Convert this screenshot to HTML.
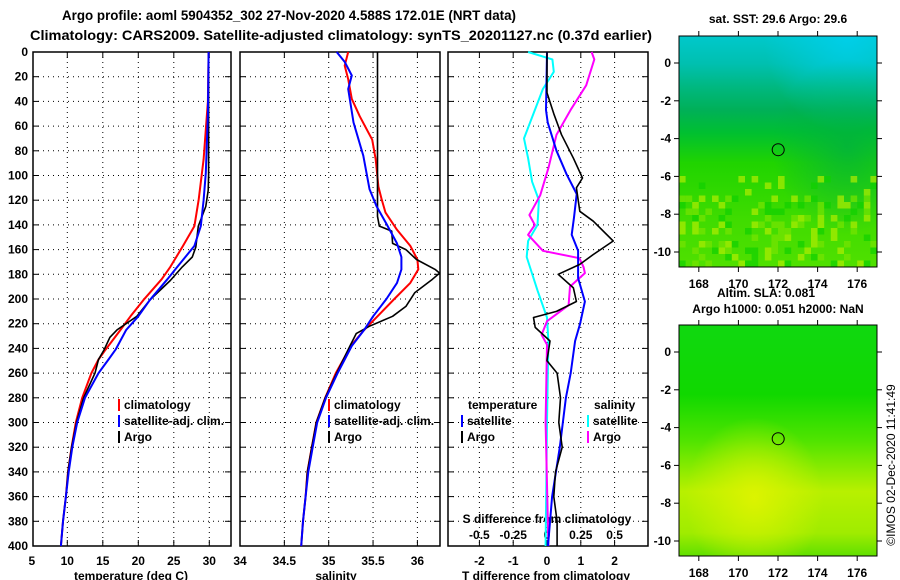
<!DOCTYPE html>
<html><head><meta charset="utf-8"><style>
body{margin:0;background:#fff;}
svg{display:block;font-family:"Liberation Sans",Arial,sans-serif;font-weight:bold;}
</style></head><body>
<svg id="c" width="900" height="580" viewBox="0 0 900 580">
<defs>
<linearGradient id="m1v" x1="0" y1="0" x2="0" y2="1">
<stop offset="0" stop-color="#00c8cc"/><stop offset="0.12" stop-color="#00c0b0"/><stop offset="0.22" stop-color="#00b880"/>
<stop offset="0.32" stop-color="#00b058"/><stop offset="0.42" stop-color="#00c030"/><stop offset="0.55" stop-color="#20d400"/><stop offset="0.8" stop-color="#40dc00"/><stop offset="1" stop-color="#50e000"/></linearGradient>
<radialGradient id="m1h" cx="0.85" cy="0.48" r="0.38"><stop offset="0" stop-color="#00b040" stop-opacity="0.75"/><stop offset="1" stop-color="#00b040" stop-opacity="0"/></radialGradient>
<radialGradient id="m1c" cx="0.85" cy="0" r="0.42"><stop offset="0" stop-color="#00d0f0" stop-opacity="0.8"/><stop offset="1" stop-color="#00d0f0" stop-opacity="0"/></radialGradient>
<linearGradient id="m2v" x1="0" y1="0" x2="0" y2="1">
<stop offset="0" stop-color="#10d810"/><stop offset="0.3" stop-color="#10d800"/><stop offset="0.5" stop-color="#50e400"/>
<stop offset="0.72" stop-color="#b8f000"/><stop offset="0.9" stop-color="#a0ec00"/><stop offset="1" stop-color="#60e000"/></linearGradient>
<radialGradient id="m2r" cx="0.38" cy="0.75" r="0.35"><stop offset="0" stop-color="#e0f400" stop-opacity="0.9"/><stop offset="1" stop-color="#e0f400" stop-opacity="0"/></radialGradient>
</defs>
<g id="g"></g>
</svg>
<script>
// ---- data ----
const depthTicks=[0,20,40,60,80,100,120,140,160,180,200,220,240,260,280,300,320,340,360,380,400];
const tTicks=[5,10,15,20,25,30];
const sTicks=[34,34.5,35,35.5,36];
const dTTicks=[-2,-1,0,1,2];
const dSTicks=[-0.5,-0.25,0,0.25,0.5];
const dSTickLabels=["-0.5","-0.25","0","0.25","0.5"];
const argoTDepth=[0,20,60,100,112,125,141,158,166,174,185,201,214,225,231,241,249,260,280,300,320,340,360,380,400];
const argoT=[29.9,29.9,29.9,29.9,29.85,29.5,28.45,28.1,27.6,26.2,24.5,21.6,19.8,17.0,16.0,15.2,14.4,13.9,12.3,11.3,10.6,10.1,9.8,9.4,9.1];
const climTDepth=[0,40,87,120,141,157,174,184,201,214,225,241,249,260,280,300,320,340,360,380,400];
const climT=[29.9,29.8,29.2,28.5,27.9,26.3,24.5,23.3,20.7,18.9,17.5,15.4,14.4,13.4,12.1,11.2,10.6,10.1,9.8,9.4,9.1];
const satTDepth=[0,50,98,120,141,157,174,184,201,214,225,241,249,260,280,300,320,340,360,380,400];
const satT=[29.9,29.8,29.5,29.2,28.8,27.9,25.5,24.1,21.6,20.0,18.3,16.8,15.8,14.4,12.5,11.4,10.7,10.2,9.8,9.4,9.1];
const argoSDepth=[0,133,141,145,155,160,168,176,179,184,195,206,214,222,228,238,260,280,300,320,340,360,380,400];
const argoS=[35.55,35.55,35.57,35.71,35.72,35.87,35.99,36.2,36.25,36.17,35.97,35.87,35.72,35.46,35.31,35.24,35.09,34.96,34.86,34.81,34.76,34.74,34.71,34.69];
const climSDepth=[0,11,22,38,52,71,87,109,120,130,144,157,168,176,187,200,214,225,238,260,280,300,320,340,360,380,400];
const climS=[35.22,35.18,35.22,35.26,35.35,35.49,35.53,35.56,35.6,35.64,35.77,35.92,36.0,36.01,35.92,35.74,35.55,35.4,35.25,35.08,34.96,34.86,34.81,34.76,34.74,34.71,34.69];
const satSDepth=[0,8,19,30,57,84,111,125,139,155,166,176,187,200,214,225,238,260,280,300,320,340,360,380,400];
const satS=[35.09,35.18,35.26,35.22,35.28,35.39,35.46,35.54,35.65,35.77,35.82,35.82,35.77,35.65,35.5,35.4,35.26,35.1,34.97,34.87,34.82,34.77,34.74,34.71,34.69];
const dTSatDepth=[0,47,57,80,99,115,134,148,161,183,202,220,234,260,280,320,360,400];
const dTSat=[0,-0.03,0.02,0.28,0.58,0.88,0.8,0.73,0.92,0.92,1.12,0.98,0.83,0.7,0.56,0.38,0.15,0.03];
const dTArgoDepth=[0,33,50,67,86,102,110,129,137,153,164,172,180,191,202,210,215,223,234,250,260,280,300,320,340,360,380,400];
const dTArgo=[0,0,0.2,0.43,0.78,1.05,0.87,0.97,1.37,1.96,1.37,0.97,0.33,0.78,0.87,0.28,-0.4,-0.35,0.09,0.0,0.3,0.4,0.35,0.45,0.25,0.2,0.3,0.3];
const dSSatDepth=[0,6,16,30,70,86,105,120,140,153,166,193,215,234,300,400];
const dSSat=[-0.14,0.04,0.05,-0.03,-0.17,-0.14,-0.11,-0.06,-0.07,-0.14,-0.15,-0.07,0,0.01,0,-0.01];
const dSArgoDepth=[0,6,27,46,67,94,116,132,140,148,161,167,174,179,190,205,218,229,237,300,400];
const dSArgo=[0.33,0.35,0.29,0.18,0.07,0.01,-0.05,-0.13,-0.09,-0.14,-0.03,0.24,0.27,0.28,0.17,0.16,0.0,-0.04,0,-0.01,0.01];
const lonTicks=[168,170,172,174,176];
const latTicks=[0,-2,-4,-6,-8,-10];
const floatLon=172.01, floatLat=-4.588;

// ---- axes ----
const TOP=52,BOT=546;
const yD=d=>TOP+d*(BOT-TOP)/400;
const xT=t=>67.3+(t-10)*7.1;
const xS=s=>328.7+(s-35)*88.7;
const xdT=v=>547+v*33.8;
const xdS=v=>547+v*135.2;
const M1={x0:679,x1:877,y0:36,y1:267,lat0:63};
const M2={x0:679,x1:877,y0:325,y1:556,lat0:352};
const mx=lon=>778+(lon-172)*19.8;
const my=(m,lat)=>m.lat0-lat*18.9;

const NS='http://www.w3.org/2000/svg';
const G=document.getElementById('g');
function el(tag,attrs,parent){const e=document.createElementNS(NS,tag);for(const k in attrs)e.setAttribute(k,attrs[k]);(parent||G).appendChild(e);return e;}
function txt(x,y,s,anchor,size,parent){const t=el('text',{x:x,y:y,'text-anchor':anchor||'middle','font-size':size||12},parent);t.textContent=s;return t;}

// titles
let t1=txt(289,20,'Argo profile: aoml 5904352_302 27-Nov-2020 4.588S 172.01E (NRT data)','middle',14);
t1.setAttribute('textLength','454');
t1.setAttribute('lengthAdjust','spacingAndGlyphs');


let t2=txt(341,40,'Climatology: CARS2009. Satellite-adjusted climatology: synTS_20201127.nc (0.37d earlier)','middle',14);
t2.setAttribute('textLength','622');
t2.setAttribute('lengthAdjust','spacingAndGlyphs');



const panels=[{x0:33,x1:231,name:'temperature-panel'},{x0:240,x1:440,name:'salinity-panel'},{x0:448,x1:648,name:'difference-panel'}];
const gridX=[tTicks.slice(1).map(xT),sTicks.slice(1).map(xS),dTTicks.map(xdT)];
panels.forEach((p,i)=>{
  const pg=el('g',{});
  
  
  depthTicks.slice(1,-1).forEach(d=>{
    el('line',{x1:p.x0,x2:p.x1,y1:yD(d),y2:yD(d),stroke:'#000','stroke-width':1,'stroke-dasharray':'1,4'},pg);
    el('line',{x1:p.x0,x2:p.x0+6,y1:yD(d),y2:yD(d),stroke:'#000'},pg);
    el('line',{x1:p.x1-6,x2:p.x1,y1:yD(d),y2:yD(d),stroke:'#000'},pg);
  });
  gridX[i].forEach(x=>{
    el('line',{x1:x,x2:x,y1:TOP,y2:BOT,stroke:'#000','stroke-width':1,'stroke-dasharray':'1,4'},pg);
    el('line',{x1:x,x2:x,y1:BOT-6,y2:BOT,stroke:'#000'},pg);
    el('line',{x1:x,x2:x,y1:TOP,y2:TOP+6,stroke:'#000'},pg);
  });
  el('rect',{x:p.x0,y:TOP,width:p.x1-p.x0,height:BOT-TOP,fill:'none',stroke:'#000','stroke-width':1.5},pg);
});
// y tick labels
const yl=el('g',{});


depthTicks.forEach(d=>txt(28,yD(d)+4,String(d),'end',12,yl));
// x labels
const xl1=el('g',{});


tTicks.forEach(t=>txt(xT(t),565,String(t),'middle',12,xl1));
const xl2=el('g',{});


sTicks.forEach(s=>txt(s===34?240:xS(s),565,String(s),'middle',12,xl2));
const xl3=el('g',{});


dTTicks.forEach(v=>txt(xdT(v),565,String(v),'middle',12,xl3));
let a1=txt(131,580,'temperature (deg C)','middle',12);


let a2=txt(336,580,'salinity','middle',12);


let a3=txt(546,580,'T difference from climatology','middle',12);


let a4=txt(547,523,'S difference from climatology','middle',12);


const sl=el('g',{});


dSTicks.forEach((v,i)=>txt(xdS(v),539,dSTickLabels[i],'middle',12,sl));

// series
function line(depths,vals,fx,color,w,name){
  const pts=depths.map((d,i)=>fx(vals[i]).toFixed(1)+','+yD(d).toFixed(1)).join(' ');
  const pl=el('polyline',{points:pts,fill:'none',stroke:color,'stroke-width':w,'stroke-linejoin':'round'});
  
  
}
line(climTDepth,climT,xT,'#ff0000',2,'temperature-climatology-line');
line(argoTDepth,argoT,xT,'#000000',1.6,'temperature-argo-line');
line(satTDepth,satT,xT,'#0000ff',2,'temperature-satellite-line');
line(climSDepth,climS,xS,'#ff0000',2,'salinity-climatology-line');
line(argoSDepth,argoS,xS,'#000000',1.6,'salinity-argo-line');
line(satSDepth,satS,xS,'#0000ff',2,'salinity-satellite-line');
line(dSSatDepth,dSSat,xdS,'#00ffff',2,'s-diff-satellite-line');
line(dSArgoDepth,dSArgo,xdS,'#ff00ff',2,'s-diff-argo-line');
line(dTSatDepth,dTSat,xdT,'#0000ff',2,'t-diff-satellite-line');
line(dTArgoDepth,dTArgo,xdT,'#000000',1.6,'t-diff-argo-line');

// legends
function legend(x,y,color,label,name){
  const lg=el('g',{});
  
  
  el('rect',{x:x,y:y-10,width:2,height:12,fill:color},lg);
  txt(x+6,y,label,'start',12,lg);
}
legend(118,409,'#ff0000','climatology','legend-entry-climatology');
legend(118,425,'#0000ff','satellite-adj. clim.','legend-entry-satellite-adj');
legend(118,441,'#000000','Argo','legend-entry-argo');
legend(328,409,'#ff0000','climatology','legend-entry-climatology-salinity');
legend(328,425,'#0000ff','satellite-adj. clim.','legend-entry-satellite-adj-salinity');
legend(328,441,'#000000','Argo','legend-entry-argo-salinity');
let lt=txt(468,409,'temperature','start',12);


let ls=txt(594,409,'salinity','start',12);


legend(461,425,'#0000ff','satellite','legend-entry-t-satellite');
legend(461,441,'#000000','Argo','legend-entry-t-argo');
legend(587,425,'#00ffff','satellite','legend-entry-s-satellite');
legend(587,441,'#ff00ff','Argo','legend-entry-s-argo');

// maps
function map(m,fillId,name){
  const g=el('g',{});
  
  
  el('rect',{x:m.x0,y:m.y0,width:m.x1-m.x0,height:m.y1-m.y0,fill:'url(#'+fillId+')'},g);
  return g;
}
const g1=map(M1,'m1v','sst-map');
el('rect',{x:M1.x0,y:M1.y0,width:M1.x1-M1.x0,height:M1.y1-M1.y0,fill:'url(#m1c)'},g1);
el('rect',{x:M1.x0,y:M1.y0,width:M1.x1-M1.x0,height:M1.y1-M1.y0,fill:'url(#m1h)'},g1);
// pixel speckle texture for sst map (lower part)
for(let r=0;r<14;r++){for(let c=0;c<30;c++){
  const h=Math.floor(Math.abs(Math.sin(r*12.9898+c*78.233)*43758.5453))%23;
  if(h<(r<3?4:8)){const y=176+r*6.5;const x=M1.x0+c*6.6;
    el('rect',{x:x,y:y,width:6.6,height:6.5,fill:h<3?'#b0ec00':(h<5?'#10d000':'#78e400'),opacity:0.7},g1);}
}}
el('rect',{x:M1.x0,y:M1.y0,width:M1.x1-M1.x0,height:M1.y1-M1.y0,fill:'none',stroke:'#000'},g1);
const g2=map(M2,'m2v','sla-map');
el('rect',{x:M2.x0,y:M2.y0,width:M2.x1-M2.x0,height:M2.y1-M2.y0,fill:'url(#m2r)'},g2);
el('rect',{x:M2.x0,y:M2.y0,width:M2.x1-M2.x0,height:M2.y1-M2.y0,fill:'none',stroke:'#000'},g2);
[[M1,g1],[M2,g2]].forEach(([m,g])=>{
  lonTicks.forEach(l=>{el('line',{x1:mx(l),x2:mx(l),y1:m.y0-5,y2:m.y0,stroke:'#000'},g);el('line',{x1:mx(l),x2:mx(l),y1:m.y1,y2:m.y1+5,stroke:'#000'},g);
    txt(mx(l),m.y1+21,String(l),'middle',12,g);});
  latTicks.forEach(l=>{const y=my(m,l);el('line',{x1:m.x0-5,x2:m.x0,y1:y,y2:y,stroke:'#000'},g);el('line',{x1:m.x1,x2:m.x1+5,y1:y,y2:y,stroke:'#000'},g);
    txt(m.x0-8,y+4,String(l),'end',12,g);});
  const c=el('circle',{cx:mx(floatLon),cy:my(m,floatLat),r:6,fill:'none',stroke:'#000','stroke-width':1},g);
  
  
});
let mt1=txt(778,23,'sat. SST: 29.6  Argo: 29.6','middle',12);


let mt2=txt(766,297,'Altim. SLA: 0.081','middle',12);


let mt3=txt(778,313,'Argo h1000: 0.051 h2000: NaN','middle',12);


let cr=txt(0,0,'©IMOS 02-Dec-2020 11:41:49','middle',12);
cr.setAttribute('transform','translate(895,465) rotate(-90)');
cr.setAttribute('font-weight','normal');


</script>
</body></html>
